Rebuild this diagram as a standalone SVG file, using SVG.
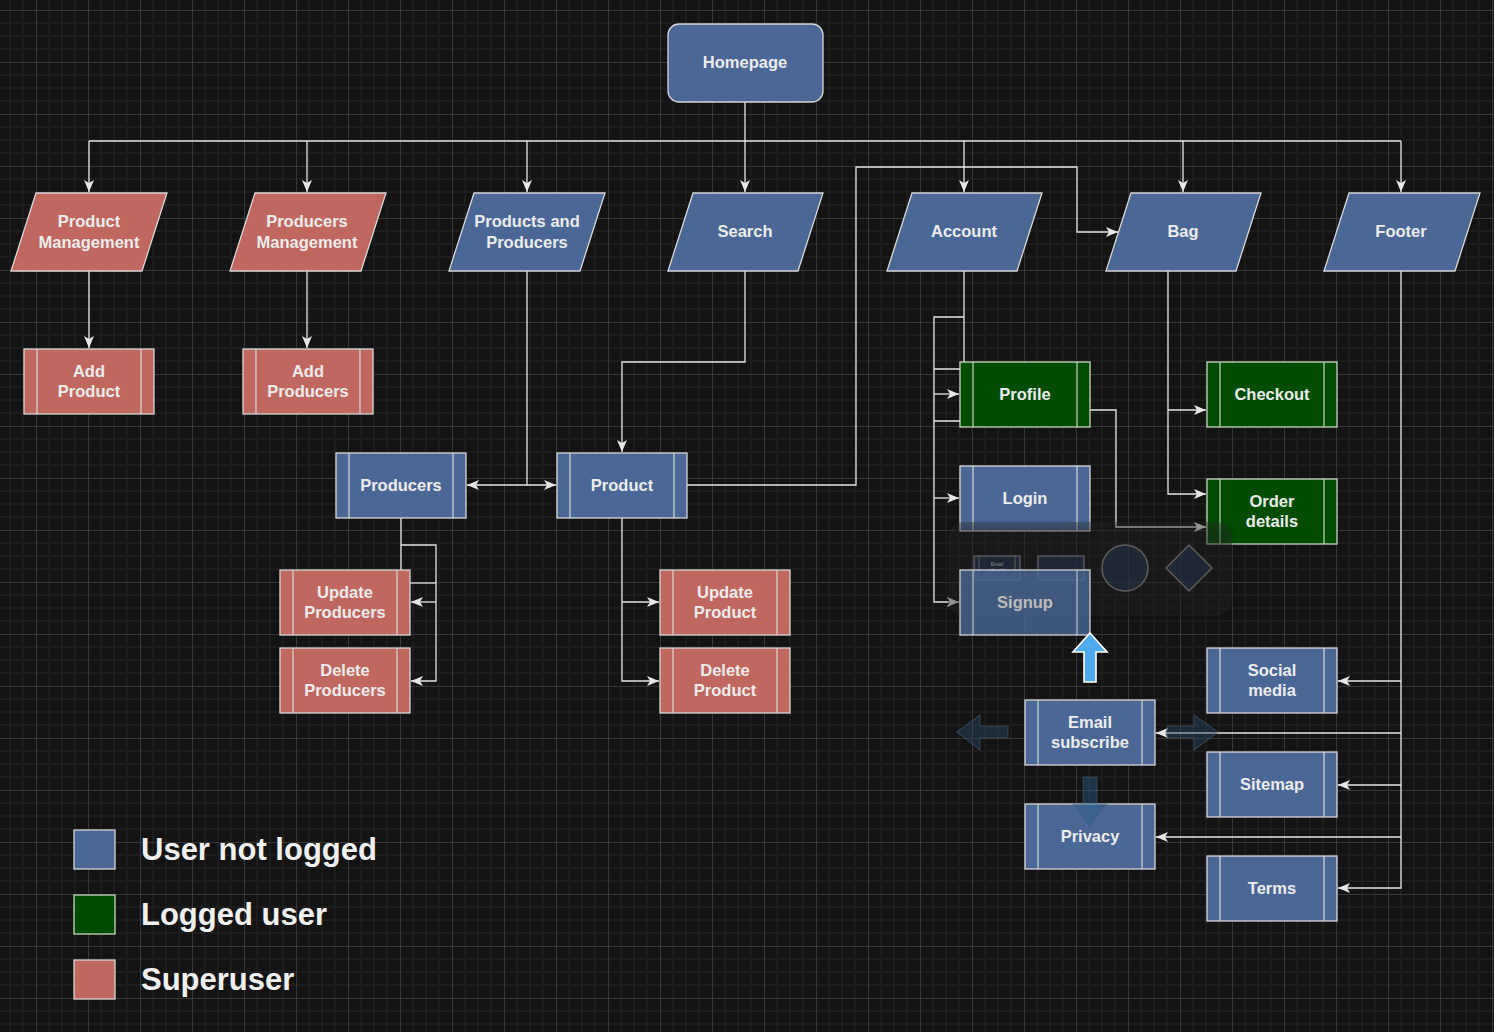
<svg xmlns="http://www.w3.org/2000/svg" width="1494" height="1032" viewBox="0 0 1494 1032">
<style>
.lbl{font-family:"Liberation Sans",Arial,sans-serif;font-weight:bold;font-size:16.5px;fill:#ececec;text-anchor:middle}
.blue{fill:#4a6795;stroke:#d8d8d8;stroke-width:1.3}
.red{fill:#c0675f;stroke:#d8d8d8;stroke-width:1.3}
.green{fill:#004c00;stroke:#c8d8c0;stroke-width:1.3}
.inner{stroke:#d8d8d8;stroke-width:1.2;fill:none}
.innerg{stroke:#c8d8c0;stroke-width:1.2;fill:none}
.edge{fill:none;stroke:#e6e6e6;stroke-width:1.3}
.arr{marker-end:url(#ah)}
.leg{font-family:"Liberation Sans",Arial,sans-serif;font-weight:bold;font-size:31px;fill:#f0f0f0}
</style>
<defs>
<pattern id="grid" x="36" y="10" width="52" height="52" patternUnits="userSpaceOnUse">
<rect x="12" y="0" width="2" height="52" fill="#1c1c1c"/>
<rect x="25" y="0" width="2" height="52" fill="#1c1c1c"/>
<rect x="38" y="0" width="2" height="52" fill="#1c1c1c"/>
<rect x="0" y="12" width="52" height="2" fill="#1c1c1c"/>
<rect x="0" y="25" width="52" height="2" fill="#1c1c1c"/>
<rect x="0" y="38" width="52" height="2" fill="#1c1c1c"/>
<rect x="0" y="0" width="1" height="52" fill="#363636"/>
<rect x="0" y="0" width="52" height="1" fill="#363636"/>
</pattern>
<marker id="ah" viewBox="0 0 12 10" refX="12" refY="5" markerWidth="12" markerHeight="10" markerUnits="userSpaceOnUse" orient="auto">
<path d="M0,0 L12,5 L0,10 L3,5 Z" fill="#e6e6e6"/>
</marker>
<filter id="sh" x="-10%" y="-20%" width="120%" height="140%">
<feGaussianBlur stdDeviation="4"/>
</filter>
</defs>
<rect width="1494" height="1032" fill="#131313"/>
<rect width="1494" height="1032" fill="url(#grid)"/>

<g id="connectors">
<path class="edge" d="M745,102 V141"/>
<path class="edge" d="M89,141 H1401"/>
<path class="edge arr" d="M89,141 V192"/>
<path class="edge arr" d="M307,141 V192"/>
<path class="edge arr" d="M527,141 V192"/>
<path class="edge arr" d="M745,141 V192"/>
<path class="edge arr" d="M964,141 V192"/>
<path class="edge arr" d="M1183,141 V192"/>
<path class="edge arr" d="M1401,141 V192"/>
<path class="edge arr" d="M89,271 V348"/>
<path class="edge arr" d="M307,271 V348"/>
<path class="edge arr" d="M527,271 V485 H556"/>
<path class="edge arr" d="M527,485 H467"/>
<path class="edge arr" d="M745,271 V362 H622 V452"/>
<path class="edge arr" d="M687,485 H856 V167 H1077 V232 H1118"/>
<path class="edge" d="M964,271 V362"/>
<path class="edge arr" d="M964,317 H934 V602 H959"/>
<path class="edge arr" d="M934,394 H959"/>
<path class="edge arr" d="M934,498 H959"/>
<path class="edge" d="M934,369 H960 M934,421 H960"/>
<path class="edge arr" d="M1090,410 H1116 V527 H1206"/>
<path class="edge arr" d="M1168,271 V494 H1206"/>
<path class="edge arr" d="M1168,410 H1206"/>
<path class="edge arr" d="M1401,271 V888 H1338"/>
<path class="edge arr" d="M1401,681 H1338"/>
<path class="edge arr" d="M1401,733 H1156"/>
<path class="edge arr" d="M1401,785 H1338"/>
<path class="edge arr" d="M1401,837 H1156"/>
<path class="edge" d="M401,518 V570"/>
<path class="edge arr" d="M401,545 H436 V681 H411"/>
<path class="edge arr" d="M436,602 H411"/>
<path class="edge" d="M410,583 H436"/>
<path class="edge arr" d="M622,518 V681 H659"/>
<path class="edge arr" d="M622,602 H659"/>
</g>

<g id="homepage"><rect class="blue" x="668" y="24" width="155" height="78" rx="11"/><text class="lbl" x="745" y="68">Homepage</text></g>

<g id="product-management"><polygon class="red" points="36,193 167,193 142,271 11,271"/><text class="lbl" x="89" y="227">Product</text><text class="lbl" x="89" y="248">Management</text></g>
<g id="producers-management"><polygon class="red" points="255,193 386,193 361,271 230,271"/><text class="lbl" x="307" y="227">Producers</text><text class="lbl" x="307" y="248">Management</text></g>
<g id="products-and-producers"><polygon class="blue" points="474,193 605,193 580,271 449,271"/><text class="lbl" x="527" y="227">Products and</text><text class="lbl" x="527" y="248">Producers</text></g>
<g id="search"><polygon class="blue" points="693,193 823,193 798,271 668,271"/><text class="lbl" x="745" y="237">Search</text></g>
<g id="account"><polygon class="blue" points="912,193 1042,193 1017,271 887,271"/><text class="lbl" x="964" y="237">Account</text></g>
<g id="bag"><polygon class="blue" points="1131,193 1261,193 1236,271 1106,271"/><text class="lbl" x="1183" y="237">Bag</text></g>
<g id="footer"><polygon class="blue" points="1349,193 1480,193 1455,271 1324,271"/><text class="lbl" x="1401" y="237">Footer</text></g>

<g id="add-product"><rect class="red" x="24" y="349" width="130" height="65"/><path class="inner" d="M37,349 V414 M141,349 V414"/><text class="lbl" x="89" y="377">Add</text><text class="lbl" x="89" y="397">Product</text></g>
<g id="add-producers"><rect class="red" x="243" y="349" width="130" height="65"/><path class="inner" d="M256,349 V414 M360,349 V414"/><text class="lbl" x="308" y="377">Add</text><text class="lbl" x="308" y="397">Producers</text></g>

<g id="producers"><rect class="blue" x="336" y="453" width="130" height="65"/><path class="inner" d="M349,453 V518 M453,453 V518"/><text class="lbl" x="401" y="491">Producers</text></g>
<g id="product"><rect class="blue" x="557" y="453" width="130" height="65"/><path class="inner" d="M570,453 V518 M674,453 V518"/><text class="lbl" x="622" y="491">Product</text></g>

<g id="update-producers"><rect class="red" x="280" y="570" width="130" height="65"/><path class="inner" d="M293,570 V635 M397,570 V635"/><text class="lbl" x="345" y="598">Update</text><text class="lbl" x="345" y="618">Producers</text></g>
<g id="delete-producers"><rect class="red" x="280" y="648" width="130" height="65"/><path class="inner" d="M293,648 V713 M397,648 V713"/><text class="lbl" x="345" y="676">Delete</text><text class="lbl" x="345" y="696">Producers</text></g>
<g id="update-product"><rect class="red" x="660" y="570" width="130" height="65"/><path class="inner" d="M673,570 V635 M777,570 V635"/><text class="lbl" x="725" y="598">Update</text><text class="lbl" x="725" y="618">Product</text></g>
<g id="delete-product"><rect class="red" x="660" y="648" width="130" height="65"/><path class="inner" d="M673,648 V713 M777,648 V713"/><text class="lbl" x="725" y="676">Delete</text><text class="lbl" x="725" y="696">Product</text></g>

<g id="profile"><rect class="green" x="960" y="362" width="130" height="65"/><path class="innerg" d="M973,362 V427 M1077,362 V427"/><text class="lbl" x="1025" y="400">Profile</text></g>
<g id="checkout"><rect class="green" x="1207" y="362" width="130" height="65"/><path class="innerg" d="M1220,362 V427 M1324,362 V427"/><text class="lbl" x="1272" y="400">Checkout</text></g>
<g id="login"><rect class="blue" x="960" y="466" width="130" height="65"/><path class="inner" d="M973,466 V531 M1077,466 V531"/><text class="lbl" x="1025" y="504">Login</text></g>
<g id="order-details"><rect class="green" x="1207" y="479" width="130" height="65"/><path class="innerg" d="M1220,479 V544 M1324,479 V544"/><text class="lbl" x="1272" y="507">Order</text><text class="lbl" x="1272" y="527">details</text></g>

<g id="hover-panel">
<rect x="950" y="526" width="282" height="92" rx="16" fill="#000" opacity="0.2" filter="url(#sh)"/>
<rect x="948" y="522" width="284" height="94" rx="16" fill="#2a2a2a" opacity="0.35"/>
<rect x="974" y="556" width="46" height="24" fill="#253247" fill-opacity="0.6" stroke="#5e5e5e" stroke-width="1.3"/>
<path d="M979,556 V580 M1015,556 V580" stroke="#5e5e5e" stroke-width="1"/>
<text x="997" y="566" font-family="Liberation Sans,Arial,sans-serif" font-size="5" fill="#8a8a8a" text-anchor="middle">Email</text>
<text x="997" y="572" font-family="Liberation Sans,Arial,sans-serif" font-size="5" fill="#8a8a8a" text-anchor="middle">subscribe</text>
<rect x="1038" y="556" width="46" height="24" fill="#253247" fill-opacity="0.6" stroke="#5e5e5e" stroke-width="1.3"/>
<circle cx="1125" cy="568" r="23" fill="#253247" fill-opacity="0.6" stroke="#5e5e5e" stroke-width="1.5"/>
<polygon points="1189,545 1212,568 1189,591 1166,568" fill="#253247" fill-opacity="0.6" stroke="#5e5e5e" stroke-width="1.5"/>
</g>

<g id="signup"><rect x="960" y="570" width="130" height="65" fill="#4a6795" fill-opacity="0.82" stroke="#cfcfcf" stroke-width="1.3"/><path class="inner" d="M973,570 V635 M1077,570 V635" opacity="0.8"/><text class="lbl" x="1025" y="608" style="fill:#bcbcbc">Signup</text></g>

<g id="email-subscribe"><rect class="blue" x="1025" y="700" width="130" height="65"/><path class="inner" d="M1038,700 V765 M1142,700 V765"/><text class="lbl" x="1090" y="728">Email</text><text class="lbl" x="1090" y="748">subscribe</text></g>
<g id="privacy"><rect class="blue" x="1025" y="804" width="130" height="65"/><path class="inner" d="M1038,804 V869 M1142,804 V869"/><text class="lbl" x="1090" y="842">Privacy</text></g>
<g id="social-media"><rect class="blue" x="1207" y="648" width="130" height="65"/><path class="inner" d="M1220,648 V713 M1324,648 V713"/><text class="lbl" x="1272" y="676">Social</text><text class="lbl" x="1272" y="696">media</text></g>
<g id="sitemap"><rect class="blue" x="1207" y="752" width="130" height="65"/><path class="inner" d="M1220,752 V817 M1324,752 V817"/><text class="lbl" x="1272" y="790">Sitemap</text></g>
<g id="terms"><rect class="blue" x="1207" y="856" width="130" height="65"/><path class="inner" d="M1220,856 V921 M1324,856 V921"/><text class="lbl" x="1272" y="894">Terms</text></g>

<g id="hover-arrows">
<polygon points="1090,633 1107,652 1096,652 1096,682 1084,682 1084,652 1073,652" fill="#4fa9ee" stroke="#ffffff" stroke-width="1.6" stroke-linejoin="miter"/>
<polygon points="957,732 980,715 980,726 1008,726 1008,738 980,738 980,750" fill="#2a4a66" fill-opacity="0.45" stroke="#50667a" stroke-opacity="0.45" stroke-width="1.2"/>
<polygon points="1218,732 1194,715 1194,726 1167,726 1167,738 1194,738 1194,750" fill="#2a4a66" fill-opacity="0.45" stroke="#50667a" stroke-opacity="0.45" stroke-width="1.2"/>
<polygon points="1090,827 1073,804 1083,804 1083,777 1097,777 1097,804 1107,804" fill="#2a5a86" fill-opacity="0.45" stroke="#50667a" stroke-opacity="0.45" stroke-width="1.2"/>
</g>

<g id="legend">
<rect x="74" y="830" width="41" height="39" fill="#4a6795" stroke="#d8d8d8" stroke-width="1.3"/>
<text class="leg" x="141" y="860">User not logged</text>
<rect x="74" y="895" width="41" height="39" fill="#004c00" stroke="#c8d8c0" stroke-width="1.3"/>
<text class="leg" x="141" y="925">Logged user</text>
<rect x="74" y="960" width="41" height="39" fill="#c0675f" stroke="#d8d8d8" stroke-width="1.3"/>
<text class="leg" x="141" y="990">Superuser</text>
</g>
</svg>
